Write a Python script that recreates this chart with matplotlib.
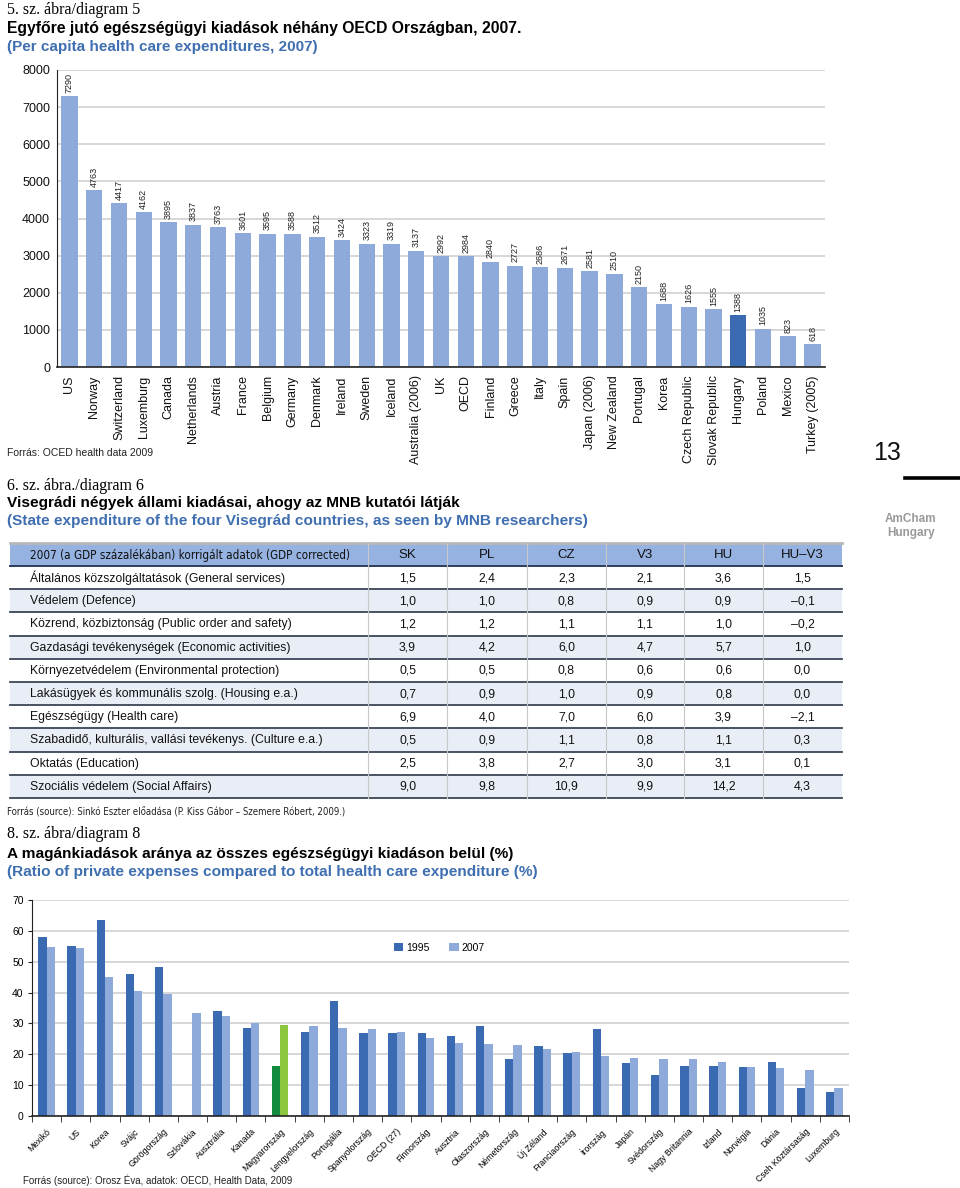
import numpy as np
import matplotlib
matplotlib.use('Agg')
from matplotlib import pyplot as plt
from matplotlib.patches import Rectangle

plt.rcParams['font.family'] = ['Liberation Sans', 'DejaVu Sans']

# diagram 5
countries5 = ['US', 'Norway', 'Switzerland', 'Luxemburg', 'Canada', 'Netherlands', 'Austria',
              'France', 'Belgium', 'Germany', 'Denmark', 'Ireland', 'Sweden', 'Iceland',
              'Australia (2006)', 'UK', 'OECD', 'Finland', 'Greece', 'Italy', 'Spain',
              'Japan (2006)', 'New Zealand', 'Portugal', 'Korea', 'Czech Republic',
              'Slovak Republic', 'Hungary', 'Poland', 'Mexico', 'Turkey (2005)']
spend5 = [7290, 4763, 4417, 4162, 3895, 3837, 3763, 3601, 3595, 3588, 3512, 3424, 3323, 3319,
          3137, 2992, 2984, 2840, 2727, 2686, 2671, 2581, 2510, 2150, 1688, 1626, 1555, 1388,
          1035, 823, 618]

# diagram 6
table_head = ['2007 (a GDP százalékában) korrigált adatok (GDP corrected)', 'SK', 'PL', 'CZ', 'V3', 'HU', 'HU–V3']
table_rows = ['Általános közszolgáltatások (General services)',
              'Védelem (Defence)',
              'Közrend, közbiztonság (Public order and safety)',
              'Gazdasági tevékenységek (Economic activities)',
              'Környezetvédelem (Environmental protection)',
              'Lakásügyek és kommunális szolg. (Housing e.a.)',
              'Egészségügy (Health care)',
              'Szabadidő, kulturális, vallási tevékenys. (Culture e.a.)',
              'Oktatás (Education)',
              'Szociális védelem (Social Affairs)']
sk = ['1,5', '1,0', '1,2', '3,9', '0,5', '0,7', '6,9', '0,5', '2,5', '9,0']
pl = ['2,4', '1,0', '1,2', '4,2', '0,5', '0,9', '4,0', '0,9', '3,8', '9,8']
cz = ['2,3', '0,8', '1,1', '6,0', '0,8', '1,0', '7,0', '1,1', '2,7', '10,9']
v3 = ['2,1', '0,9', '1,1', '4,7', '0,6', '0,9', '6,0', '0,8', '3,0', '9,9']
hu = ['3,6', '0,9', '1,0', '5,7', '0,6', '0,8', '3,9', '1,1', '3,1', '14,2']
hu_v3 = ['1,5', '–0,1', '–0,2', '1,0', '0,0', '0,0', '–2,1', '0,3', '0,1', '4,3']

# diagram 8
countries8 = ['Mexikó', 'US', 'Korea', 'Svájc', 'Görögország', 'Szlovákia', 'Ausztrália', 'Kanada',
              'Magyarország', 'Lengyelország', 'Portugália', 'Spanyolország', 'OECD (27)',
              'Finnország', 'Ausztria', 'Olaszország', 'Németország', 'Új Zéland',
              'Franciaország', 'Írország', 'Japán', 'Svédország', 'Nagy Britannia', 'Izland',
              'Norvégia', 'Dánia', 'Cseh Köztársaság', 'Luxemburg']
y1995 = [57.9, 55.1, 63.5, 46.1, 48.2, 0, 34.1, 28.4, 16.1, 27.2, 37.4, 27.0, 27.0, 27.0, 25.9,
         29.2, 18.4, 22.8, 20.3, 28.2, 17.2, 13.3, 16.2, 16.2, 15.8, 17.5, 9.2, 7.7]
y2007 = [54.7, 54.4, 44.9, 40.5, 39.5, 33.3, 32.3, 30.0, 29.5, 29.1, 28.4, 28.1, 27.2, 25.4, 23.8,
         23.4, 23.1, 21.8, 20.8, 19.3, 18.7, 18.4, 18.4, 17.5, 15.8, 15.6, 14.9, 9.2]

W, H = 960, 1188
LIGHT = '#8eaadb'
DARK = '#3a6ab2'
BLUE_TXT = '#3f6fb0'
SERIF = ['Liberation Serif', 'DejaVu Serif']

fig = plt.figure(figsize=(W / 100, H / 100), dpi=100)
bg = fig.add_axes([0, 0, 1, 1])
bg.set_xlim(0, W)
bg.set_ylim(H, 0)
bg.axis('off')


def px_axes(l, t, r, b):
    return fig.add_axes([l / W, 1 - b / H, (r - l) / W, (b - t) / H])


# ---- headings
bg.text(7, 10, '5. sz. ábra/diagram 5', family=SERIF, fontsize=11.5, va='center')
bg.text(7, 29, 'Egyfőre jutó egészségügyi kiadások néhány OECD Országban, 2007.',
        fontsize=11.3, fontweight='bold', va='center')
bg.text(7, 47, '(Per capita health care expenditures, 2007)', fontsize=11, fontweight='bold',
        color=BLUE_TXT, va='center')
bg.text(7, 453, 'Forrás: OCED health data 2009', fontsize=7.5, color='#222', va='center')

bg.text(7, 486, '6. sz. ábra./diagram 6', family=SERIF, fontsize=11.5, va='center')
bg.text(7, 503, 'Visegrádi négyek állami kiadásai, ahogy az MNB kutatói látják',
        fontsize=11.1, fontweight='bold', va='center')
bg.text(7, 521, '(State expenditure of the four Visegrád countries, as seen by MNB researchers)',
        fontsize=11.1, fontweight='bold', color=BLUE_TXT, va='center')

bg.text(7, 812, 'Forrás (source): Sinkó Eszter előadása (P. Kiss Gábor – Szemere Róbert, 2009.)',
        family='DejaVu Sans', fontstretch='condensed', fontsize=6.9, color='#222', va='center')
bg.text(7, 834, '8. sz. ábra/diagram 8', family=SERIF, fontsize=11.5, va='center')
bg.text(7, 854, 'A magánkiadások aránya az összes egészségügyi kiadáson belül (%)',
        fontsize=11.1, fontweight='bold', va='center')
bg.text(7, 872, '(Ratio of private expenses compared to total health care expenditure (%)',
        fontsize=11.1, fontweight='bold', color=BLUE_TXT, va='center')
bg.text(23, 1180, 'Forrás (source): Orosz Éva, adatok: OECD, Health Data, 2009',
        fontsize=7, color='#222', va='center')

# page side marks
bg.text(887, 453, '13', fontsize=18, ha='center', va='center', color='#111')
bg.plot([905, 960], [478, 478], color='black', lw=2.6)
bg.text(911, 526, 'AmCham\nHungary', fontsize=8.5, fontweight='bold', color='#999999',
        ha='center', va='center', linespacing=1.3)

# ---- diagram 5
ax1 = px_axes(57, 70, 825, 367)
x5 = np.arange(len(countries5))
cols5 = [DARK if c == 'Hungary' else LIGHT for c in countries5]
ax1.bar(x5, spend5, width=0.66, color=cols5, zorder=2)
for xi, v in zip(x5, spend5):
    ax1.text(xi, v + 90, str(v), rotation=90, ha='center', va='bottom', fontsize=6.5, color='#222')
ax1.set_xlim(-0.5, len(countries5) - 0.5)
ax1.set_ylim(0, 8000)
ax1.set_yticks(range(0, 8001, 1000))
ax1.set_xticks(x5)
ax1.set_xticklabels(countries5, rotation=90, fontsize=9)
ax1.tick_params(axis='both', length=0, labelsize=9, colors='#111')
ax1.tick_params(axis='x', pad=6)
ax1.tick_params(axis='y', pad=5)
ax1.grid(axis='y', color='#d4d4d4', lw=1.3, zorder=0)
for s in ['top', 'right']:
    ax1.spines[s].set_visible(False)
ax1.spines['left'].set_color('#222')
ax1.spines['bottom'].set_color('#222')
ax1.spines['bottom'].set_linewidth(1.2)

# ---- diagram 6 table
col_edges = [10, 368, 447, 527, 606, 684, 763, 842]
head_top, head_bot = 543, 566
row_h = 23.2
bg.add_patch(Rectangle((col_edges[0], head_top), col_edges[-1] - col_edges[0], head_bot - head_top,
                       facecolor='#95b2e0', edgecolor='none'))
bg.plot([col_edges[0], col_edges[-1]], [head_top, head_top], color='#b8b8b8', lw=2)
bg.plot([col_edges[0], col_edges[-1]], [head_bot, head_bot], color='#2c3e5c', lw=1.4)
for j, h in enumerate(table_head):
    if j == 0:
        bg.text(30, (head_top + head_bot) / 2 + 1, h, family='DejaVu Sans', fontstretch='condensed',
                fontsize=8.4, va='center', color='#111')
    else:
        bg.text((col_edges[j] + col_edges[j + 1]) / 2, (head_top + head_bot) / 2 + 1, h,
                fontsize=9.5, ha='center', va='center', color='#111')
columns = [sk, pl, cz, v3, hu, hu_v3]
for i, name in enumerate(table_rows):
    top = head_bot + i * row_h
    if i % 2 == 1:
        bg.add_patch(Rectangle((col_edges[0], top), col_edges[-1] - col_edges[0], row_h,
                               facecolor='#e8edf6', edgecolor='none'))
    bg.plot([col_edges[0], col_edges[-1]], [top + row_h, top + row_h], color='#3a4556', lw=1.3)
    yc = top + row_h / 2 + 0.5
    bg.text(30, yc, name, fontsize=8.8, va='center', color='#111')
    for j, col in enumerate(columns):
        bg.text((col_edges[j + 1] + col_edges[j + 2]) / 2, yc, col[i], fontsize=8.8,
                ha='center', va='center', color='#111')
for e in col_edges[1:-1]:
    bg.plot([e, e], [head_top, head_bot + len(table_rows) * row_h], color='#c8c8c8', lw=0.8)

# ---- diagram 8
ax3 = px_axes(32, 900, 849, 1116)
x8 = np.arange(len(countries8))
bw = 0.285
c95 = ['#138a3e' if c == 'Magyarország' else DARK for c in countries8]
c07 = ['#8cc63f' if c == 'Magyarország' else LIGHT for c in countries8]
ax3.bar(x8 - bw / 2, y1995, width=bw, color=c95, zorder=2, label='1995')
ax3.bar(x8 + bw / 2, y2007, width=bw, color=c07, zorder=2, label='2007')
ax3.set_xlim(-0.5, len(countries8) - 0.5)
ax3.set_ylim(0, 70)
ax3.set_yticks(range(0, 71, 10))
ax3.set_xticks(x8)
ax3.set_xticklabels(countries8, rotation=45, ha='right', rotation_mode='anchor', fontsize=6.3)
ax3.set_xticks(np.arange(-0.5, len(countries8), 1), minor=True)
ax3.tick_params(axis='x', which='major', length=0, pad=8)
ax3.tick_params(axis='x', which='minor', length=4, direction='out', color='#222')
ax3.tick_params(axis='y', length=3, labelsize=7.5, color='#222', pad=3)
ax3.grid(axis='y', color='#d4d4d4', lw=1.3, zorder=0)
for s in ['top', 'right']:
    ax3.spines[s].set_visible(False)
ax3.spines['left'].set_color('#222')
ax3.spines['bottom'].set_color('#222')
ax3.spines['bottom'].set_linewidth(1.2)
ax3.legend(loc='center left', bbox_to_anchor=(0.431, 0.78), ncol=2, frameon=False,
           fontsize=7.5, handlelength=0.9, handleheight=0.9, handletextpad=0.3, columnspacing=1.9)

fig.savefig('out.png', dpi=100)
